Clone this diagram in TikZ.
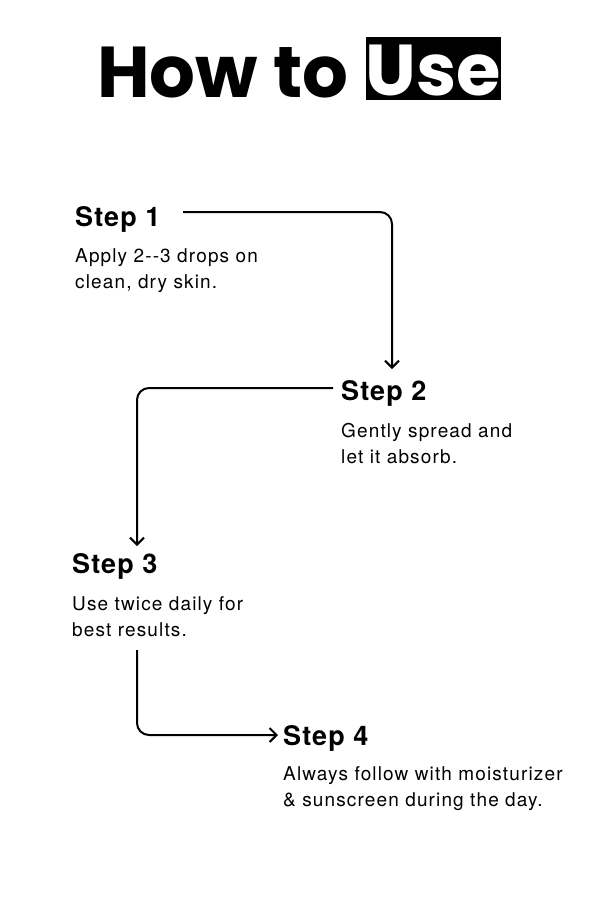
\documentclass[tikz,border=0pt]{standalone}
\usepackage{fontspec}
\setmainfont{TeX Gyre Heros}
\newfontfamily\titlefont{Poppins}
\newfontfamily\bodyfont[LetterSpace=6]{TeX Gyre Heros}
\newfontfamily\stepfont[LetterSpace=4]{TeX Gyre Heros}
\usetikzlibrary{arrows.meta}
\begin{document}
\begin{tikzpicture}[x=1pt,y=-1pt,
  steplbl/.style={anchor=base west,inner sep=0pt,font=\stepfont\fontsize{27}{30}\selectfont\bfseries},
  body/.style={anchor=north west,inner sep=0pt,align=left,font=\bodyfont\fontsize{19}{26.5}\selectfont},
  conn/.style={line width=2pt,rounded corners=12pt,-{Straight Barb[length=7pt,width=14pt,line width=2pt]}}]
\useasboundingbox (0,0) rectangle (600,900);
\fill[white] (0,0) rectangle (600,900);
\node[anchor=base west,inner sep=0pt,font=\titlefont\bfseries\fontsize{72}{80}\selectfont] (t1) at (97,97) {How to};
\fill[black] (366,37) rectangle (501,100);
\node[anchor=base,inner sep=0pt,text=white,font=\titlefont\bfseries\fontsize{72}{80}\selectfont] (t2) at (433.5,95) {Use};
\node[steplbl] (s1) at (75,226) {Step 1};
\node[body] (b1) at (75,248) {Apply 2--3 drops on\\clean, dry skin.};
\node[steplbl] (s2) at (341,400) {Step 2};
\node[body] (b2) at (341,423) {Gently spread and\\let it absorb.};
\node[steplbl] (s3) at (72,573) {Step 3};
\node[body] (b3) at (72,596) {Use twice daily for\\best results.};
\node[steplbl] (s4) at (283,745) {Step 4};
\node[body] (b4) at (283,766) {Always follow with moisturizer\\\& sunscreen during the day.};
\coordinate (a1) at (183,212); \coordinate (c1) at (392,212); \coordinate (e1) at (392,369);
\coordinate (a2) at (333,388); \coordinate (c2) at (137,388); \coordinate (e2) at (137,546);
\coordinate (a3) at (137,650); \coordinate (c3) at (137,735); \coordinate (e3) at (278,735);
\draw[conn] (a1) -- (c1) -- (e1);
\draw[conn] (a2) -- (c2) -- (e2);
\draw[conn] (a3) -- (c3) -- (e3);
\end{tikzpicture}
\end{document}
